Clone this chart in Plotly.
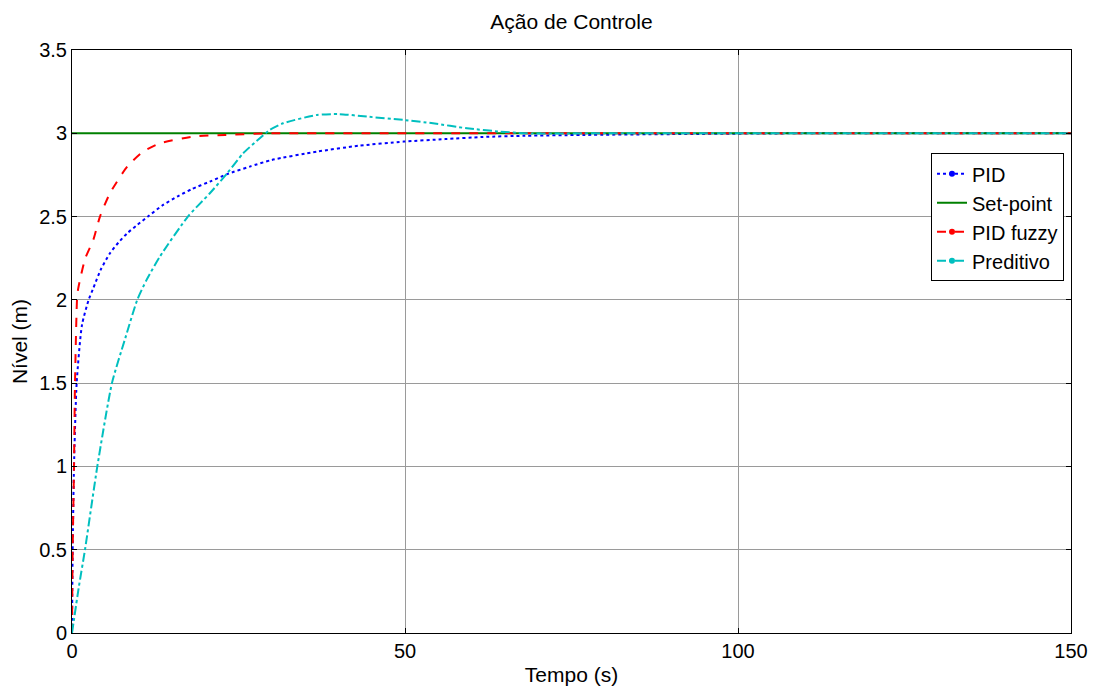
import plotly.graph_objects as go

# ---- data ----
t_pid = [0, 0.1, 0.3, 0.7, 1.5, 2.5, 3.2, 4.3, 5.7, 7.0, 8.3, 9.8, 11.4, 13.5, 15.8, 18.0, 20.7, 23.3, 26.7, 30, 36.8, 43, 49.8, 56, 61.7, 68, 76.7, 90, 110, 130, 150]
y_pid = [0, 0.5, 1.0, 1.5, 1.85, 2.0, 2.07, 2.18, 2.28, 2.345, 2.40, 2.45, 2.50, 2.565, 2.62, 2.665, 2.71, 2.755, 2.80, 2.84, 2.89, 2.925, 2.95, 2.965, 2.978, 2.985, 2.99, 2.995, 3.0, 3.0, 3.0]

t_sp = [0, 150]
y_sp = [3.0, 3.0]

t_fz = [0, 0.1, 0.3, 0.45, 0.75, 0.9, 1.2, 2.0, 3.2, 4.2, 5.7, 8.3, 10.7, 13.2, 18.2, 23, 30, 50, 100, 150]
y_fz = [0, 0.5, 1.0, 1.5, 2.0, 2.06, 2.12, 2.25, 2.36, 2.50, 2.64, 2.80, 2.89, 2.94, 2.98, 2.99, 3.0, 3.0, 3.0, 3.0]

t_pr = [0, 1.0, 1.95, 3.8, 6.0, 8.0, 9.8, 11.2, 13.2, 17.4, 20.7, 23.3, 25.7, 28.2, 29.7, 31.7, 36.8, 40.2, 44.3, 49.8, 54.2, 59.3, 64.3, 68, 80, 100, 150]
y_pr = [0, 0.27, 0.5, 1.0, 1.5, 1.77, 2.0, 2.12, 2.26, 2.50, 2.64, 2.76, 2.88, 2.97, 3.02, 3.06, 3.11, 3.115, 3.10, 3.08, 3.06, 3.03, 3.01, 3.0, 3.0, 3.0, 3.0]

names = ["PID", "Set-point", "PID fuzzy", "Preditivo"]
colors = ["#0000FF", "#008000", "#FF0000", "#00BFBF"]
dashes = ["dot", "solid", "dash", "dashdot"]
xs = [t_pid, t_sp, t_fz, t_pr]
ys = [y_pid, y_sp, y_fz, y_pr]

FONT = "Liberation Sans, Arial"

fig = go.Figure()
for n, c, d, x, y in zip(names, colors, dashes, xs, ys):
    fig.add_trace(go.Scatter(x=x, y=y, mode="lines", name=n, showlegend=False,
                             line=dict(color=c, dash=d, width=2, shape="spline", smoothing=0.6)))
# legend entries (with dot markers like the reference)
for n, c, d in zip(names, colors, dashes):
    fig.add_trace(go.Scatter(x=[None], y=[None], name=n,
                             mode="lines" if n == "Set-point" else "lines+markers",
                             line=dict(color=c, dash=d, width=2),
                             marker=dict(color=c, size=6)))

axis_common = dict(showline=True, linecolor="black", linewidth=1, mirror="ticks",
                   ticks="inside", ticklen=5, tickcolor="black", automargin=False,
                   showgrid=True, gridcolor="#9a9a9a", gridwidth=1, zeroline=False,
                   tickfont=dict(family=FONT, size=20, color="black"))

# the page body adds an 8px offset, margins compensate for it
fig.update_layout(
    width=1097, height=693,
    paper_bgcolor="white", plot_bgcolor="white",
    margin=dict(l=64, r=34, t=42, b=68),
    title=dict(text="Ação de Controle", x=0.5, xref="paper", xanchor="center",
               y=0.98, yref="container", yanchor="middle",
               font=dict(family=FONT, size=21, color="black")),
    xaxis=dict(range=[0, 150], tickvals=[0, 50, 100, 150],
               title=dict(text="Tempo (s)", standoff=6,
                          font=dict(family=FONT, size=21, color="black")),
               **axis_common),
    yaxis=dict(range=[0, 3.5], tickvals=[0, 0.5, 1, 1.5, 2, 2.5, 3, 3.5],
               ticktext=["0", "0.5", "1", "1.5", "2", "2.5", "3", "3.5"],
               title=dict(text="Nível (m)", standoff=8,
                          font=dict(family=FONT, size=21, color="black")),
               **axis_common),
    legend=dict(x=0.993, y=0.823, xanchor="right", yanchor="top",
                bgcolor="white", bordercolor="black", borderwidth=1,
                font=dict(family=FONT, size=20, color="black"),
                tracegroupgap=0, itemwidth=30),
)

fig.write_html("out.html")
